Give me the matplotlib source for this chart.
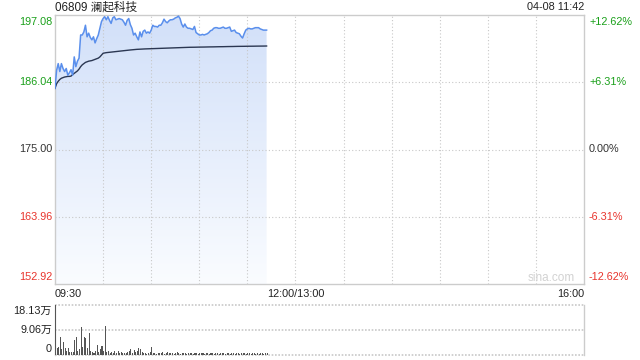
import numpy as np
import matplotlib
matplotlib.use("Agg")
import matplotlib.pyplot as plt
from matplotlib.colors import LinearSegmentedColormap

# ---------------- data ----------------
title = "06809 澜起科技"
stamp = "04-08 11:42"
prev_close = 175.00
price_ticks = [197.08, 186.04, 175.00, 163.96, 152.92]
pct_labels = ["+12.62%", "+6.31%", "0.00%", "-6.31%", "-12.62%"]
vol_ticks = [0, 90600, 181300]
vol_labels = ["0", "9.06万", "18.13万"]
time_labels = ["09:30", "12:00/13:00", "16:00"]
time_pos = [0, 150, 330]          # minutes of trading session

price = [185.04, 188.0, 189.1, 187.8, 189.1, 188.3, 187.8, 188.3, 187.2, 187.6,
         188.1, 187.2, 190.2, 188.6, 189.5, 190.0, 193.8, 193.8, 194.3, 195.4,
         193.5, 194.1, 193.4, 193.0, 193.5, 192.5, 193.2, 193.8, 194.9, 196.0,
         196.5, 196.8, 196.3, 196.8, 196.2, 195.7, 196.6, 196.8, 196.3, 196.4,
         196.5, 196.4, 196.3, 195.9, 195.4, 196.2, 196.5, 195.5, 194.9, 193.8,
         194.1, 193.5, 193.0, 194.3, 193.5, 194.4, 194.6, 194.1, 194.3, 194.1,
         194.6, 195.4, 195.2, 195.2, 195.1, 195.4, 195.4, 195.8, 196.4, 196.0,
         195.8, 196.1, 196.3, 196.3, 196.4, 196.6, 196.7, 196.9, 196.5, 195.6,
         195.1, 195.6, 195.1, 194.9, 194.9, 194.8, 194.7, 195.2, 194.2, 194.0,
         193.8, 193.8, 193.9, 193.8, 193.9, 194.0, 194.2, 194.5, 194.6, 194.9,
         195.0, 195.0, 194.9, 194.9, 195.0, 195.1, 194.9, 194.9, 195.0, 195.1,
         194.4, 194.5, 194.6, 194.2, 194.1, 194.0, 193.6, 193.3, 194.0, 194.6,
         194.8, 194.9, 194.8, 194.8, 194.9, 195.0, 195.0, 195.0, 194.8, 194.7,
         194.6, 194.6, 194.6]

avg_price = [185.04, 185.8, 186.2, 186.5, 186.7, 186.8, 186.9, 186.95, 187.0, 187.0,
             187.05, 187.3, 187.5, 187.7, 187.9, 188.2, 188.6, 188.9, 189.1, 189.3,
             189.4, 189.5, 189.55, 189.6, 189.7, 189.8, 189.9, 190.0, 190.2, 190.5,
             190.8, 190.85, 190.9, 190.93, 190.96, 191.0, 191.03, 191.06, 191.09, 191.12,
             191.14, 191.17, 191.2, 191.22, 191.25, 191.28, 191.31, 191.34, 191.36, 191.39,
             191.42, 191.44, 191.45, 191.47, 191.48, 191.5, 191.51, 191.52, 191.53, 191.54,
             191.55, 191.56, 191.57, 191.58, 191.59, 191.6, 191.61, 191.62, 191.63, 191.64,
             191.65, 191.66, 191.67, 191.68, 191.69, 191.7, 191.71, 191.72, 191.73, 191.74,
             191.75, 191.76, 191.76, 191.77, 191.78, 191.78, 191.79, 191.79, 191.8, 191.8,
             191.81, 191.81, 191.82, 191.82, 191.83, 191.83, 191.84, 191.84, 191.85, 191.85,
             191.86, 191.86, 191.87, 191.87, 191.88, 191.88, 191.89, 191.89, 191.9, 191.9,
             191.91, 191.91, 191.92, 191.92, 191.93, 191.93, 191.94, 191.94, 191.94, 191.95,
             191.95, 191.95, 191.96, 191.96, 191.96, 191.97, 191.97, 191.97, 191.98, 191.98,
             191.98, 191.99, 191.99]

volume_wan = [18.13, 2.5, 3.0, 6.6, 2.0, 4.8, 2.5, 1.5, 2.4, 1.2,
              1.0, 1.2, 5.4, 6.6, 1.5, 2.0, 10.3, 3.0, 6.6, 6.0,
              2.5, 7.9, 1.5, 1.0, 0.8, 1.5, 3.6, 1.2, 2.0, 3.4,
              1.5, 10.6, 1.2, 1.5, 0.9, 1.2, 0.8, 1.3, 0.9, 1.4,
              0.7, 1.0, 0.6, 0.9, 0.7, 1.0, 1.6, 2.2, 0.9, 1.8,
              1.2, 1.4, 2.7, 2.2, 1.0, 0.6, 0.9, 0.5, 0.8, 1.2,
              3.0, 0.8, 0.6, 0.5, 0.9, 0.6, 0.7, 1.0, 0.5, 0.8,
              1.1, 0.6, 0.7, 0.9, 0.5, 0.6, 1.0, 0.7, 0.5, 0.8,
              0.6, 0.9, 0.5, 0.7, 0.6, 0.8, 0.5, 0.9, 0.6, 0.5,
              0.7, 0.6, 0.8, 0.5, 0.6, 0.9, 0.5, 0.7, 0.6, 0.5,
              0.8, 0.6, 0.5, 0.7, 0.6, 0.9, 0.5, 0.6, 0.7, 0.5,
              0.8, 0.6, 0.5, 0.7, 0.6, 0.5, 0.8, 0.6, 0.7, 0.5,
              0.6, 0.8, 0.5, 0.6, 0.7, 0.5, 0.6, 0.5, 0.7, 0.6,
              0.5, 0.6, 0.8]

# ---------------- figure ----------------
FONT = ["Liberation Sans", "Noto Sans CJK SC", "DejaVu Sans"]
plt.rcParams["font.family"] = FONT

W, H = 640, 360
fig = plt.figure(figsize=(6.4, 3.6), dpi=100)
fig.patch.set_facecolor("white")

L, R = 55, 584
ax = fig.add_axes([L / W, (H - 284) / H, (R - L) / W, (284 - 15) / H])
axv = fig.add_axes([L / W, (H - 355) / H, (R - L) / W, (355 - 305) / H])

GREEN = "#1aa01a"
RED = "#e8342c"
GRID = "#c8c8c8"
BORDER = "#cccccc"

minutes = np.arange(len(price))
ymin, ymax = price_ticks[-1], price_ticks[0]

# gradient fill
cmap = LinearSegmentedColormap.from_list("g", ["#fafcff", "#d2e0f9"])
grad = np.linspace(0, 1, 256).reshape(-1, 1)
poly = ax.fill_between(minutes, price, ymin, color="none", lw=0)
im = ax.imshow(grad, cmap=cmap, aspect="auto", origin="lower",
               extent=[0, minutes[-1], ymin, max(price)], zorder=1)
path = poly.get_paths()[0]
im.set_clip_path(path, transform=ax.transData)

ax.plot(minutes, avg_price, color="#2b3752", lw=1.0, zorder=4)
ax.plot(minutes, price, color="#5a8fec", lw=1.1, zorder=5)

ax.set_xlim(0, 330)
ax.set_ylim(ymin, ymax)
for t in range(30, 330, 30):
    ax.axvline(t, color=GRID, lw=0.8, ls=(0, (1, 2)), zorder=3)
for p in price_ticks[1:-1]:
    ax.axhline(p, color=GRID, lw=0.8, ls=(0, (1, 2)), zorder=3)
ax.set_xticks([])
ax.set_yticks([])
for s in ax.spines.values():
    s.set_color(BORDER)
    s.set_linewidth(1.0)

# labels on price axes
def col(p):
    if p > prev_close + 1e-9:
        return GREEN
    if p < prev_close - 1e-9:
        return RED
    return "#333333"

for i, (p, lab) in enumerate(zip(price_ticks, pct_labels)):
    va = "center"
    dy = 0
    if i == 0:
        va, dy = "top", -2
    elif i == len(price_ticks) - 1:
        va, dy = "bottom", 2
    ax.annotate(f"{p:.2f}", xy=(0, p), xycoords=("axes fraction", "data"),
                xytext=(-3, dy), textcoords="offset pixels", ha="right", va=va,
                fontsize=7.8, color=col(p))
    ax.annotate(lab, xy=(1, p), xycoords=("axes fraction", "data"),
                xytext=(5, dy), textcoords="offset pixels", ha="left", va=va,
                fontsize=7.8, color=col(p))

for t, lab in zip(time_pos, time_labels):
    ha = "left" if t == 0 else ("right" if t == 330 else "center")
    ax.annotate(lab, xy=(t, 0), xycoords=("data", "axes fraction"),
                xytext=(0, -5), textcoords="offset pixels", ha=ha, va="top",
                fontsize=7.8, color="#222222")

fig.text(L / W, 1 - 7.5 / H, title, ha="left", va="center", fontsize=8.4, color="#222222")
fig.text(R / W, 1 - 7.5 / H, stamp, ha="right", va="center", fontsize=7.8, color="#222222")
ax.text(0.982, 0.0, "sina.com", transform=ax.transAxes, ha="right", va="bottom",
        fontsize=8.5, color="#d2d2d2")

# ---------------- volume ----------------
vol = np.array(volume_wan) * 10000
axv.bar(minutes, vol, width=0.65, align="edge", color="#555555", lw=0,
        zorder=3, clip_on=False)
axv.set_xlim(0, 330)
axv.set_ylim(0, vol_ticks[-1])
axv.set_xticks([])
axv.set_yticks([])
for k in ("top", "bottom"):
    axv.spines[k].set_visible(False)
for k in ("left", "right"):
    axv.spines[k].set_color(BORDER)
    axv.spines[k].set_linewidth(1.0)
for v in vol_ticks:
    axv.axhline(v, color=GRID, lw=1.2, ls=(0, (1, 1)), zorder=0, clip_on=False)
for i, (v, lab) in enumerate(zip(vol_ticks, vol_labels)):
    va, dy = "center", 0
    if i == len(vol_ticks) - 1:
        va, dy = "top", -1
    elif i == 0:
        va, dy = "bottom", 1
    axv.annotate(lab, xy=(0, v), xycoords=("axes fraction", "data"),
                 xytext=(-3, dy), textcoords="offset pixels", ha="right", va=va,
                 fontsize=7.8, color="#222222")

fig.savefig("out.png", dpi=100, facecolor="white")
